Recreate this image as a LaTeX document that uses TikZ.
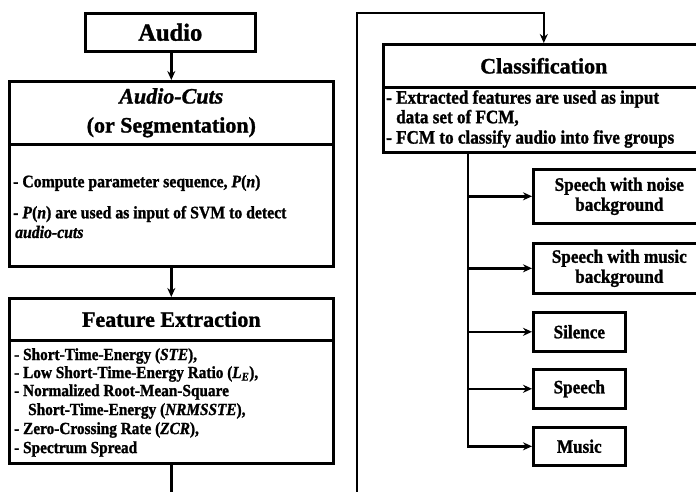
\documentclass[tikz,border=0pt]{standalone}
\usepackage{fontspec}
\setmainfont{Liberation Serif}[BoldFeatures={FakeBold=1.3}, BoldItalicFeatures={FakeBold=1.3}]
\newfontfamily\bodyfont{Liberation Serif}[FakeStretch=0.9, BoldFeatures={FakeBold=1.3,FakeStretch=0.9}, BoldItalicFeatures={FakeBold=1.3,FakeStretch=0.9}]
\usetikzlibrary{arrows.meta}
\begin{document}
\begin{tikzpicture}[x=1pt,y=-1pt,
  box/.style={draw, line width=2.6pt, rectangle, inner sep=0pt, anchor=north west, fill=white},
  conn/.style={line width=2.4pt},
  arr/.style={conn, -{Stealth[length=9pt,width=8pt]}},
  hdr/.style={font=\fontsize{22}{29}\selectfont\bfseries, align=center},
  item/.style={anchor=west, inner sep=0pt, font=\bodyfont\fontsize{17.5}{19}\selectfont\bfseries},
  fitem/.style={anchor=west, inner sep=0pt, font=\bodyfont\fontsize{17}{19}\selectfont\bfseries},
  citem/.style={anchor=west, inner sep=0pt, font=\bodyfont\fontsize{19}{20}\selectfont\bfseries},
  outbox/.style={box, font=\bodyfont\fontsize{19}{20}\selectfont\bfseries, align=center}
]
\useasboundingbox (0,0) rectangle (696,491);
\clip (0,0) rectangle (696,491);

% Left column
\node[box, hdr, font=\fontsize{24.5}{26}\selectfont\bfseries, minimum width=170pt, minimum height=38pt] (audio) at (84,12) {Audio};

\node[box, hdr, minimum width=324pt, minimum height=63pt] (acuts) at (8,80) {\textit{Audio-Cuts}\\(or Segmentation)};
\node[box, minimum width=324pt, minimum height=122pt] (acutsb) at (8,143) {};
\node[item] (ac1) at (13,183) {- Compute parameter sequence, \textit{P}(\textit{n})};
\node[item] (ac2) at (13,214) {- \textit{P}(\textit{n}) are used as input of SVM to detect};
\node[item] (ac3) at (15,232) {\textit{audio-cuts}};

\node[box, hdr, minimum width=324pt, minimum height=42pt] (fe) at (8,297) {Feature Extraction};
\node[box, minimum width=324pt, minimum height=123pt] (feb) at (8,339) {};
\node[fitem] (f1) at (14,356) {- Short-Time-Energy (\textit{STE}),};
\node[fitem] (f2) at (14,374) {- Low Short-Time-Energy Ratio (\textit{L}\textsubscript{\textit{E}}),};
\node[fitem] (f3) at (14,392) {- Normalized Root-Mean-Square};
\node[fitem] (f4) at (28,411) {Short-Time-Energy (\textit{NRMSSTE}),};
\node[fitem] (f5) at (14,430) {- Zero-Crossing Rate (\textit{ZCR}),};
\node[fitem] (f6) at (14,449) {- Spectrum Spread};

% Right column
\node[box, hdr, minimum width=321pt, minimum height=43pt] (cls) at (382,43) {Classification};
\node[box, minimum width=321pt, minimum height=65pt] (clsb) at (382,86) {};
\node[citem] (c1) at (386,99) {- Extracted features are used as input};
\node[citem] (c2) at (396,118) {data set of FCM,};
\node[citem] (c3) at (386,139) {- FCM to classify audio into five groups};

\node[outbox, minimum width=172pt, minimum height=54pt] (o1) at (532,168) {Speech with noise\\background};
\node[outbox, minimum width=172pt, minimum height=50pt] (o2) at (532,242) {Speech with music\\background};
\node[outbox, minimum width=92pt, minimum height=39pt] (o3) at (532,311) {Silence};
\node[outbox, minimum width=92pt, minimum height=39pt] (o4) at (532,368) {Speech};
\node[outbox, minimum width=92pt, minimum height=38pt] (o5) at (532,426) {Music};

% Connectors
\draw[arr] (audio.south -| acuts.north) -- (acuts.north);
\draw[arr] (acutsb.south) -- (fe.north);

\coordinate (lb) at (357,530);
\coordinate (lt) at (357,13);
\draw[arr] (feb.south) |- (lb) -- (lt) -| (cls.north);

\coordinate (br) at (468,151);
\draw[arr] (br) |- (o5.west);
\draw[arr] (br |- o1.west) -- (o1.west);
\draw[arr] (br |- o2.west) -- (o2.west);
\draw[arr] (br |- o3.west) -- (o3.west);
\draw[arr] (br |- o4.west) -- (o4.west);
\end{tikzpicture}
\end{document}
